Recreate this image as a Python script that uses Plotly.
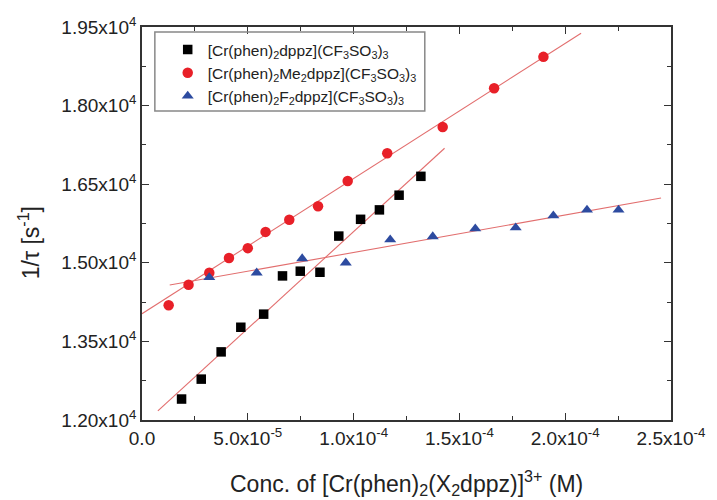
import plotly.graph_objects as go

# ---- data -------------------------------------------------------------
conc_dppz = [1.87e-5, 2.80e-5, 3.74e-5, 4.67e-5, 5.75e-5, 6.64e-5, 7.48e-5,
             8.41e-5, 9.30e-5, 1.033e-4, 1.122e-4, 1.215e-4, 1.318e-4]
rate_dppz = [12400, 12780, 13300, 13770, 14020, 14750, 14840,
             14820, 15510, 15830, 16010, 16290, 16650]

conc_me2 = [1.26e-5, 2.20e-5, 3.18e-5, 4.11e-5, 5.00e-5, 5.84e-5, 6.96e-5,
            8.32e-5, 9.72e-5, 1.159e-4, 1.421e-4, 1.664e-4, 1.897e-4]
rate_me2 = [14190, 14580, 14810, 15090, 15280, 15590, 15820,
            16080, 16560, 17090, 17590, 18330, 18930]

conc_f2 = [3.18e-5, 5.42e-5, 7.57e-5, 9.63e-5, 1.173e-4, 1.374e-4,
           1.575e-4, 1.766e-4, 1.944e-4, 2.103e-4, 2.252e-4]
rate_f2 = [14720, 14810, 15080, 15000, 15440, 15500,
           15650, 15670, 15900, 16010, 16010]

# linear fits: (intercept, slope, x start, x end)
fit_dppz = (11895, 3.70e7, 7.5e-6, 1.43e-4)
fit_me2 = (14028, 2.58e7, 0.0, 2.075e-4)
fit_f2 = (14482, 7.15e6, 1.31e-5, 2.453e-4)

x_ticks = [0, 5e-5, 1e-4, 1.5e-4, 2e-4, 2.5e-4]
x_ticktext = ["0.0", "5.0x10<sup>-5</sup>", "1.0x10<sup>-4</sup>",
              "1.5x10<sup>-4</sup>", "2.0x10<sup>-4</sup>", "2.5x10<sup>-4</sup>"]
y_ticks = [12000, 13500, 15000, 16500, 18000, 19500]
y_ticktext = ["1.20x10<sup>4</sup>", "1.35x10<sup>4</sup>", "1.50x10<sup>4</sup>",
              "1.65x10<sup>4</sup>", "1.80x10<sup>4</sup>", "1.95x10<sup>4</sup>"]

names = ["[Cr(phen)<sub>2</sub>dppz](CF<sub>3</sub>SO<sub>3</sub>)<sub>3</sub>",
         "[Cr(phen)<sub>2</sub>Me<sub>2</sub>dppz](CF<sub>3</sub>SO<sub>3</sub>)<sub>3</sub>",
         "[Cr(phen)<sub>2</sub>F<sub>2</sub>dppz](CF<sub>3</sub>SO<sub>3</sub>)<sub>3</sub>"]

FONT = "Liberation Sans, Arial, sans-serif"
FIT_COLOR = "rgb(226,110,110)"

fig = go.Figure()

# fitted lines (drawn first, beneath the markers)
for b, m, x0, x1 in (fit_dppz, fit_me2, fit_f2):
    fig.add_trace(go.Scatter(x=[x0, x1], y=[b + m * x0, b + m * x1], mode="lines",
                             line=dict(color=FIT_COLOR, width=1.1),
                             showlegend=False, hoverinfo="skip"))

fig.add_trace(go.Scatter(x=conc_dppz, y=rate_dppz, mode="markers", name=names[0],
                         marker=dict(symbol="square", size=9.5, color="black")))
fig.add_trace(go.Scatter(x=conc_me2, y=rate_me2, mode="markers", name=names[1],
                         marker=dict(symbol="circle", size=10.5, color="rgb(232,32,40)")))
fig.add_trace(go.Scatter(x=conc_f2, y=rate_f2, mode="markers", name=names[2],
                         marker=dict(symbol="triangle-up", size=10.5, color="rgb(45,75,160)")))

axis_common = dict(showline=True, linecolor="#333", linewidth=1.6, mirror="ticks",
                   ticks="inside", ticklen=7, tickwidth=1.3, tickcolor="#333",
                   showgrid=False, zeroline=False,
                   tickfont=dict(family=FONT, size=19, color="#222"))

fig.update_xaxes(range=[0, 2.5e-4], tickmode="array", tickvals=x_ticks,
                 ticktext=x_ticktext,
                 minor=dict(tickmode="linear", tick0=0, dtick=2.5e-5, ticklen=4,
                            ticks="inside", tickcolor="#333"),
                 **axis_common)
fig.update_yaxes(range=[12000, 19500], tickmode="array", tickvals=y_ticks,
                 ticktext=y_ticktext,
                 minor=dict(tickmode="linear", tick0=12000, dtick=750, ticklen=4,
                            ticks="inside", tickcolor="#333"),
                 **axis_common)

# legend frame
fig.add_shape(type="rect", xref="paper", yref="paper",
              x0=13 / 535, x1=286 / 535, y0=1 - 84 / 393, y1=1 - 5 / 393,
              line=dict(color="#888", width=1.5), fillcolor="rgba(0,0,0,0)")

fig.add_annotation(text="Conc. of [Cr(phen)<sub>2</sub>(X<sub>2</sub>dppz)]<sup>3+</sup> (M)",
                   xref="paper", yref="paper", x=0.5, y=-63 / 393,
                   xanchor="center", yanchor="middle", showarrow=False,
                   font=dict(family=FONT, size=23, color="#222"))
fig.add_annotation(text="1/τ [s<sup>-1</sup>]", textangle=-90,
                   xref="paper", yref="paper", x=-114 / 535, y=1 - 216 / 393,
                   xanchor="center", yanchor="middle", showarrow=False,
                   font=dict(family=FONT, size=23, color="#222"))

fig.update_layout(
    width=717, height=500,
    margin=dict(l=142, r=40, t=27, b=80),
    paper_bgcolor="white", plot_bgcolor="white",
    legend=dict(x=26 / 535, y=1 - 6 / 393, xanchor="left", yanchor="top",
                bgcolor="rgba(0,0,0,0)", borderwidth=0,
                font=dict(family=FONT, size=15.5, color="#222"),
                tracegroupgap=0, itemsizing="trace"),
    showlegend=True,
)

fig.write_html("out.html")
